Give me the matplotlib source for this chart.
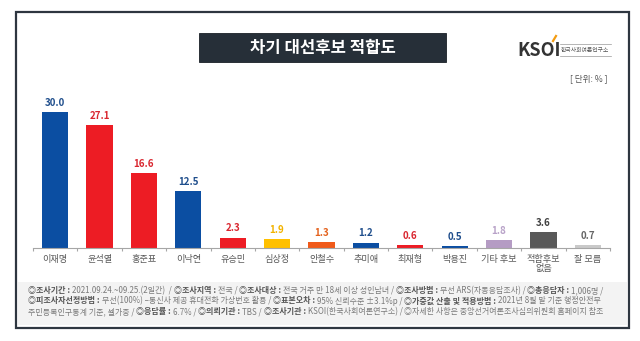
import matplotlib
matplotlib.use("Agg")
import matplotlib.pyplot as plt
from matplotlib.patches import Rectangle
from matplotlib.lines import Line2D

plt.rcParams['font.family'] = ['Noto Sans CJK KR', 'DejaVu Sans']

categories = ['이재명', '윤석열', '홍준표', '이낙연', '유승민', '심상정', '안철수',
              '추미애', '최재형', '박용진', '기타 후보', '적합후보\n없음', '잘 모름']
values = [30.0, 27.1, 16.6, 12.5, 2.3, 1.9, 1.3, 1.2, 0.6, 0.5, 1.8, 3.6, 0.7]
bar_colors = ['#0b4ea2', '#ed1c24', '#ed1c24', '#0b4ea2', '#ed1c24', '#ffc000', '#f05a1a',
              '#0b4ea2', '#ed1c24', '#0b4ea2', '#b59cc4', '#595959', '#c9c9c9']
label_colors = ['#1f4e8c', '#d9262f', '#d9262f', '#1f4e8c', '#d9262f', '#f2b300', '#e4611c',
                '#1f4e8c', '#d9262f', '#1f4e8c', '#b8a2c8', '#404040', '#666666']

title = '차기 대선후보 적합도'
unit_text = '[ 단위: % ]'
footnote_lines = [
    [('◎조사기간 : ', True), ('2021.09.24.~09.25.(2일간)  / ', False),
     ('◎조사지역 : ', True), ('전국 / ', False),
     ('◎조사대상 : ', True), ('전국 거주 만 18세 이상 성인남녀 / ', False),
     ('◎조사방법 : ', True), ('무선 ARS(자동응답조사) / ', False),
     ('◎총응답자 : ', True), ('1,006명 /', False)],
    [('◎피조사자선정방법 : ', True), ('무선(100%) –통신사 제공 휴대전화 가상번호 활용 / ', False),
     ('◎표본오차 : ', True), ('95% 신뢰수준 ±3.1%p / ', False),
     ('◎가중값 산출 및 적용방법 : ', True), ('2021년 8월 말 기준 행정안전부', False)],
    [('주민등록인구통계 기준, 셀가중 / ', False),
     ('◎응답률 : ', True), ('6.7% / ', False),
     ('◎의뢰기관 : ', True), ('TBS / ', False),
     ('◎조사기관 : ', True), ('KSOI(한국사회여론연구소) / ', False),
     ('◎자세한 사항은 중앙선거여론조사심의위원회 홈페이지 참조', False)],
]

W, H = 640, 341
fig = plt.figure(figsize=(6.4, 3.41), dpi=100)
fig.patch.set_facecolor('white')

def fx(px):
    return px / W

def fy(py):
    return 1 - py / H

# outer frame
fig.add_artist(Rectangle((fx(16), fy(328)), fx(629) - fx(16), fy(12) - fy(328),
                         transform=fig.transFigure, facecolor='white',
                         edgecolor='#2e3640', linewidth=1.6, zorder=0))
# footnote background
fig.add_artist(Rectangle((fx(18), fy(325)), fx(627) - fx(18), fy(282) - fy(325),
                         transform=fig.transFigure, facecolor='#f3f3f3',
                         edgecolor='none', zorder=0.5))

# title box
fig.add_artist(Rectangle((fx(199), fy(62)), fx(446) - fx(199), fy(33) - fy(62),
                         transform=fig.transFigure, facecolor='#262f38',
                         edgecolor='#1a2027', linewidth=0.6, zorder=1))
fig.text(fx(322.5), fy(47.5), title, color='white', fontsize=12, fontweight='bold',
         ha='center', va='center', zorder=2)

# logo
fig.text(fx(517), fy(50), 'KSOI', color='#333333', fontsize=13, fontweight='bold',
         ha='left', va='center', zorder=2)
fig.add_artist(Line2D([fx(553), fx(556)], [fy(41), fy(36)], transform=fig.transFigure,
                      color='#f39c12', linewidth=1.6, zorder=3))
fig.text(fx(561), fy(50), '한국사회여론연구소', color='#555555', fontsize=4.2,
         ha='left', va='center', zorder=2)
fig.add_artist(Line2D([fx(560), fx(611)], [fy(44), fy(44)], transform=fig.transFigure,
                      color='#999999', linewidth=0.5))
fig.add_artist(Line2D([fx(560), fx(611)], [fy(56), fy(56)], transform=fig.transFigure,
                      color='#999999', linewidth=0.5))
fig.text(fx(608), fy(79), unit_text, color='#555555', fontsize=6.2,
         ha='right', va='center', zorder=2)

# bar chart axes
ax = fig.add_axes([fx(33), fy(248), fx(610) - fx(33), fy(103) - fy(248)])
ax.set_facecolor('none')
x = list(range(len(categories)))
bars = ax.bar(x, values, width=0.59, color=bar_colors, zorder=2)
for xi, v, c in zip(x, values, label_colors):
    ax.annotate(f'{v:.1f}', (xi, v), xytext=(0, 3), textcoords='offset points',
                ha='center', va='bottom', fontsize=7, fontweight='bold', color=c)
ax.set_xlim(-0.5, len(categories) - 0.5)
ax.set_ylim(0, 32)
for s in ['top', 'right', 'left']:
    ax.spines[s].set_visible(False)
ax.spines['bottom'].set_color('#a6a6a6')
ax.spines['bottom'].set_linewidth(0.8)
ax.set_yticks([])
ax.set_xticks(x)
ax.set_xticklabels(categories, fontsize=6.6, color='#595959', linespacing=1.0)
ax.tick_params(axis='x', which='major', length=0, pad=5)
ax.set_xticks([i + 0.5 for i in range(-1, len(categories))], minor=True)
ax.tick_params(axis='x', which='minor', length=2.5, color='#a6a6a6', width=0.8)

# footnote with bold segments, sized so the first line spans the box
fig.canvas.draw()
renderer = fig.canvas.get_renderer()

def draw_line(segs, yy, size, draw=True):
    xpos = 28
    arts = []
    for txt, bold in segs:
        t = fig.text(fx(xpos), fy(yy), txt, fontsize=size,
                     fontweight='bold' if bold else 'normal',
                     color='#555555' if bold else '#7a7a7a',
                     ha='left', va='center', zorder=2)
        bb = t.get_window_extent(renderer=renderer)
        xpos += bb.width
        arts.append(t)
    if not draw:
        for a in arts:
            a.remove()
    return xpos - 28

base = 4.3
w0 = draw_line(footnote_lines[0], 290, base, draw=False)
size = base * (578 / w0)
line_y = [290.5, 301, 311.5]
for segs, yy in zip(footnote_lines, line_y):
    draw_line(segs, yy, size)

fig.savefig('out.png', dpi=100)
